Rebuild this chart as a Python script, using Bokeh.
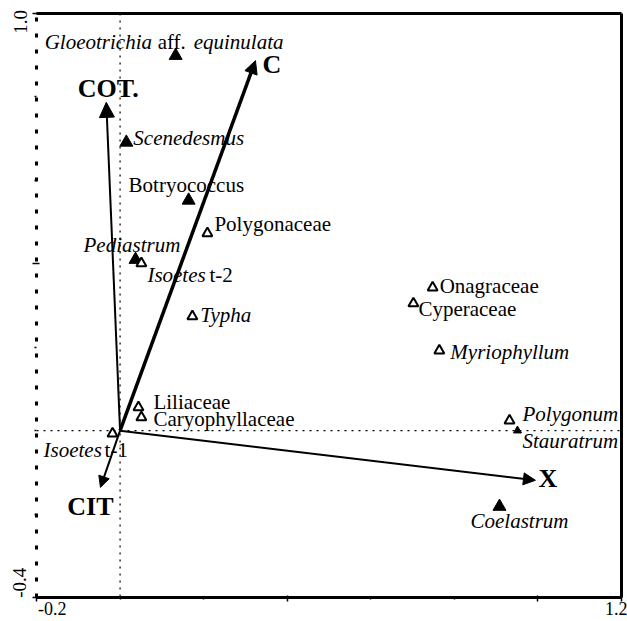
import math
from bokeh.plotting import figure
from bokeh.models import (ColumnDataSource, Arrow, NormalHead, Span,
                          LinearAxis, FixedTicker, Range1d)
from bokeh.core.properties import value
from bokeh.embed import file_html
from bokeh.resources import INLINE

# ---------------- data ----------------
x_limits = [-0.2, 1.2]
y_limits = [-0.4, 1.0]
x_tick_labels = ["-0.2", "1.2"]
y_tick_labels = ["-0.4", "1.0"]

phyto_taxa = ["Gloeotrichia aff. equinulata", "Scenedesmus", "Botryococcus",
              "Pediastrum", "Stauratrum", "Coelastrum"]
phyto_axis1 = [0.133, 0.015, 0.164, 0.037, 0.951, 0.908]
phyto_axis2 = [0.899, 0.691, 0.552, 0.410, 0.000, -0.182]

macro_taxa = ["Polygonaceae", "Isoetes t-2", "Typha", "Liliaceae", "Caryophyllaceae",
              "Isoetes t-1", "Onagraceae", "Cyperaceae", "Myriophyllum", "Polygonum"]
macro_axis1 = [0.209, 0.051, 0.173, 0.044, 0.051, -0.018, 0.748, 0.702, 0.764, 0.932]
macro_axis2 = [0.473, 0.401, 0.274, 0.056, 0.032, -0.007, 0.343, 0.305, 0.192, 0.024]

env_vars = ["COT.", "C", "X", "CIT"]
env_axis1 = [-0.033, 0.324, 0.994, -0.047]
env_axis2 = [0.787, 0.887, -0.119, -0.136]

# ---------------- layout / style ----------------
FONT = "Liberation Serif"
LABEL_SIZE = "21px"
MID = 7   # px between alphabetic baseline and 'middle' for 21px text
# name -> (segments [(text, style, seg_dx)], dx, dy-to-baseline) in screen px
LABELS = {
    "Gloeotrichia aff. equinulata": ([("Gloeotrichia", "italic", 0), ("aff.", "normal", 113),
                                      ("equinulata", "italic", 149)], -131, -7),
    "Scenedesmus": ([("Scenedesmus", "italic", 0)], 7, 3),
    "Botryococcus": ([("Botryococcus", "normal", 0)], -60, -8),
    "Pediastrum": ([("Pediastrum", "italic", 0)], -52, -8),
    "Stauratrum": ([("Stauratrum", "italic", 0)], 5, 17),
    "Coelastrum": ([("Coelastrum", "italic", 0)], -29, 21),
    "Polygonaceae": ([("Polygonaceae", "normal", 0)], 7, -2),
    "Isoetes t-2": ([("Isoetes", "italic", 0), ("t-2", "normal", 62)], 6, 19),
    "Typha": ([("Typha", "italic", 0)], 8, 6),
    "Liliaceae": ([("Liliaceae", "normal", 0)], 15, 2),
    "Caryophyllaceae": ([("Caryophyllaceae", "normal", 0)], 12, 9),
    "Isoetes t-1": ([("Isoetes", "italic", 0), ("t-1", "normal", 61)], -69, 23),
    "Onagraceae": ([("Onagraceae", "normal", 0)], 7, 5),
    "Cyperaceae": ([("Cyperaceae", "normal", 0)], 5, 13),
    "Myriophyllum": ([("Myriophyllum", "italic", 0)], 11, 8),
    "Polygonum": ([("Polygonum", "italic", 0)], 13, 0),
}
PHYTO_SIZE = {"Stauratrum": 8}
ENV_MID = 9
ENV_STYLE = {  # name -> (line width, head size, label dx, label dy-to-baseline, align)
    "COT.": (2.0, 15, 2, -5, "center"),
    "C": (3.5, 13, 7, 13, "left"),
    "X": (2.0, 12, 3, 7, "left"),
    "CIT": (2.0, 11, -10, 28, "center"),
}
NB = "\u00a0"
# padding (in no-break spaces) that shifts the centred end labels inwards
X_PAD = {"-0.2": (7, 0), "1.2": (0, 0)}
Y_PAD = {"-0.4": (5, 0), "1.0": (0, 2)}

# ---------------- figure ----------------
p = figure(width=627, height=621,
           x_range=Range1d(x_limits[0], x_limits[1]),
           y_range=Range1d(y_limits[0], y_limits[1]),
           output_backend="svg", toolbar_location=None,
           x_axis_location=None, y_axis_location=None,
           min_border_left=36, min_border_right=6,
           min_border_top=13, min_border_bottom=24)
p.grid.visible = False
p.outline_line_color = None
p.background_fill_color = "white"

common_axis = dict(axis_line_color="black", major_tick_line_color="black",
                   minor_tick_line_color="black", major_tick_line_width=1.5,
                   minor_tick_line_width=1.5, major_label_text_font=FONT,
                   major_label_text_color="black")

x_over = {0.4: "", 1.0: ""}
for t, v in zip(x_tick_labels, x_limits):
    a, b = X_PAD[t]
    x_over[v] = NB * a + t + NB * b
xb = LinearAxis(ticker=FixedTicker(ticks=[x_limits[0], 0.4, 1.0, x_limits[1]],
                                   minor_ticks=[0.0, 0.2, 0.6, 0.8]),
                major_label_overrides=x_over, major_label_standoff=-3,
                major_label_text_font_size="18px",
                axis_line_width=3, major_tick_out=4, major_tick_in=2,
                minor_tick_out=2, minor_tick_in=1, **common_axis)
p.add_layout(xb, "below")

y_over = {0.4: ""}
for t, v in zip(y_tick_labels, y_limits):
    a, b = Y_PAD[t]
    y_over[v] = NB * a + t + NB * b
yl = LinearAxis(ticker=FixedTicker(ticks=[y_limits[0], 0.4, y_limits[1]],
                                   minor_ticks=[-0.2, 0.0, 0.2, 0.6, 0.8]),
                major_label_overrides=y_over, major_label_orientation="vertical",
                major_label_standoff=2, major_label_text_font_size="19px",
                axis_line_width=3, axis_line_dash="4 12", major_tick_out=4, major_tick_in=3,
                minor_tick_out=2, minor_tick_in=0, **common_axis)
p.add_layout(yl, "left")
for loc in ("above", "right"):
    ax = LinearAxis(ticker=FixedTicker(ticks=[]), axis_line_width=3,
                    major_tick_out=0, major_tick_in=0, minor_tick_out=0, minor_tick_in=0,
                    major_label_standoff=0, major_label_text_font_size="19px", **common_axis)
    p.add_layout(ax, loc)

# zero reference lines
p.add_layout(Span(location=0, dimension="height", line_color="black", line_width=1.2,
                  line_dash="2 5", level="underlay"))
p.add_layout(Span(location=0, dimension="width", line_color="black", line_width=1.2,
                  line_dash="2 5", level="underlay"))

# points
phyto_src = ColumnDataSource(dict(x=phyto_axis1, y=phyto_axis2, name=phyto_taxa,
                                  size=[PHYTO_SIZE.get(n, 13) for n in phyto_taxa]))
p.scatter("x", "y", source=phyto_src, marker="triangle", size="size",
          fill_color="black", line_color="black", line_width=1)
macro_src = ColumnDataSource(dict(x=macro_axis1, y=macro_axis2, name=macro_taxa))
p.scatter("x", "y", source=macro_src, marker="triangle", size=10,
          fill_color="white", line_color="black", line_width=2)

# species labels
seg = dict(x=[], y=[], text=[], dx=[], dy=[], style=[])
for names, xs, ys in ((phyto_taxa, phyto_axis1, phyto_axis2),
                      (macro_taxa, macro_axis1, macro_axis2)):
    for n, xv, yv in zip(names, xs, ys):
        parts, dx, dy = LABELS[n]
        for t, st, sdx in parts:
            seg["x"].append(xv); seg["y"].append(yv); seg["text"].append(t)
            seg["dx"].append(dx + sdx); seg["dy"].append(dy - MID); seg["style"].append(st)
p.text("x", "y", text="text", source=ColumnDataSource(seg), x_offset="dx", y_offset="dy",
       text_font=value(FONT), text_font_size=value(LABEL_SIZE), text_font_style="style",
       text_align="left", text_baseline="middle", text_color="black")

# environmental arrows
env_lab = dict(x=[], y=[], text=[], dx=[], dy=[], align=[])
for n, xv, yv in zip(env_vars, env_axis1, env_axis2):
    lw, hs, ldx, ldy, al = ENV_STYLE[n]
    p.add_layout(Arrow(x_start=0, y_start=0, x_end=xv, y_end=yv, line_width=lw,
                       line_color="black",
                       end=NormalHead(size=hs, fill_color="black", line_color="black",
                                      line_width=1)))
    env_lab["x"].append(xv); env_lab["y"].append(yv); env_lab["text"].append(n)
    env_lab["dx"].append(ldx); env_lab["dy"].append(ldy - ENV_MID); env_lab["align"].append(al)
p.text("x", "y", text="text", source=ColumnDataSource(env_lab), x_offset="dx", y_offset="dy",
       text_font=value(FONT), text_font_size=value("26px"), text_font_style="bold",
       text_align="align", text_baseline="middle", text_color="black")

open("out.html", "w").write(file_html(p, INLINE))
